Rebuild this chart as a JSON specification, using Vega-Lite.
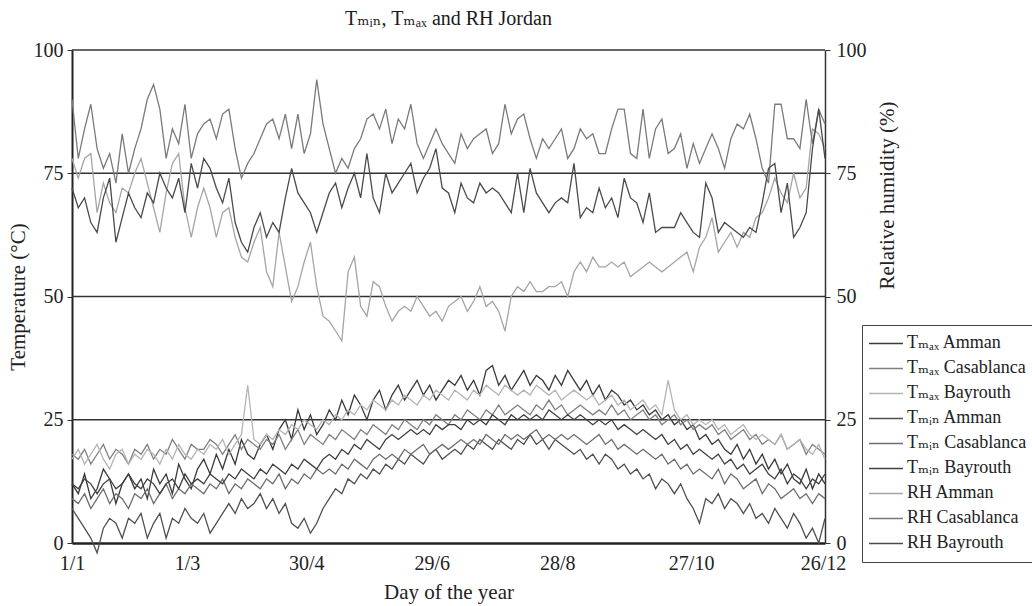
{
"$schema": "https://vega.github.io/schema/vega-lite/v6.json",
"width": 753,
"height": 493,
"autosize": {"type": "none"},
"padding": {"left": 72, "top": 50, "right": 207, "bottom": 63},
"background": "white",
"config": {"font": "Liberation Serif, DejaVu Serif, serif", "view": {"stroke": null}},
"title": {"text": "Tₘᵢₙ, Tₘₐₓ and RH Jordan", "font": "Liberation Serif, DejaVu Serif, serif", "fontSize": 20, "fontWeight": "normal", "color": "#1a1a1a", "offset": 11, "anchor": "middle"},
"layer": [
{
"data": {"values": [{"g": 25}, {"g": 50}, {"g": 75}, {"g": 100}]},
"mark": {"type": "rule", "color": "#333333", "strokeWidth": 1.5},
"encoding": {
"y": {"field": "g", "type": "quantitative", "scale": {"domain": [0, 100], "nice": false},
"axis": {"orient": "right", "values": [0, 25, 50, 75, 100], "grid": false, "tickSize": 5, "tickColor": "#333", "domainColor": "#333", "domainWidth": 1.5, "labelFont": "Liberation Serif, DejaVu Serif, serif", "labelFontSize": 20, "labelColor": "#222", "labelPadding": 6, "title": "Relative humidity (%)", "titleFont": "Liberation Serif, DejaVu Serif, serif", "titleAngle": 270, "titleAlign": "center", "titleBaseline": "middle", "titleX": 62, "titleY": 145, "titleFontSize": 21, "titleFontWeight": "normal", "titleColor": "#222"}}
}
},
{
"data": {"values": [
{"d":1,"a":12,"b":18,"c":17,"e":7,"f":9,"g":12,"h":78,"k":90,"m":72},
{"d":4,"a":10,"b":17,"c":19,"e":5,"f":8,"g":11,"h":74,"k":78,"m":68},
{"d":7,"a":14,"b":19,"c":16,"e":3,"f":10,"g":13,"h":78,"k":84,"m":70},
{"d":10,"a":9,"b":16,"c":18,"e":1,"f":7,"g":12,"h":79,"k":89,"m":65},
{"d":13,"a":11,"b":18,"c":20,"e":-2,"f":9,"g":10,"h":67,"k":80,"m":63},
{"d":16,"a":15,"b":20,"c":17,"e":3,"f":11,"g":12,"h":73,"k":76,"m":70},
{"d":19,"a":13,"b":17,"c":15,"e":5,"f":8,"g":13,"h":69,"k":79,"m":74},
{"d":22,"a":8,"b":19,"c":18,"e":4,"f":10,"g":11,"h":67,"k":73,"m":61},
{"d":25,"a":12,"b":18,"c":19,"e":1,"f":9,"g":12,"h":72,"k":83,"m":66},
{"d":28,"a":14,"b":16,"c":16,"e":5,"f":7,"g":14,"h":71,"k":75,"m":71},
{"d":31,"a":11,"b":19,"c":18,"e":4,"f":10,"g":12,"h":75,"k":80,"m":68},
{"d":34,"a":13,"b":18,"c":17,"e":6,"f":9,"g":11,"h":78,"k":84,"m":66},
{"d":37,"a":9,"b":20,"c":19,"e":1,"f":11,"g":13,"h":73,"k":90,"m":71},
{"d":40,"a":15,"b":17,"c":18,"e":4,"f":8,"g":12,"h":68,"k":93,"m":69},
{"d":43,"a":12,"b":19,"c":16,"e":6,"f":10,"g":10,"h":63,"k":88,"m":75},
{"d":46,"a":14,"b":18,"c":19,"e":1,"f":12,"g":12,"h":71,"k":78,"m":72},
{"d":49,"a":10,"b":21,"c":17,"e":5,"f":9,"g":13,"h":77,"k":84,"m":70},
{"d":52,"a":16,"b":19,"c":20,"e":4,"f":11,"g":11,"h":79,"k":81,"m":74},
{"d":55,"a":13,"b":17,"c":18,"e":7,"f":10,"g":14,"h":68,"k":89,"m":67},
{"d":58,"a":11,"b":20,"c":17,"e":5,"f":12,"g":12,"h":62,"k":78,"m":77},
{"d":61,"a":15,"b":19,"c":19,"e":4,"f":11,"g":13,"h":68,"k":83,"m":72},
{"d":64,"a":17,"b":19,"c":18,"e":6,"f":10,"g":12,"h":72,"k":85,"m":78},
{"d":67,"a":14,"b":21,"c":20,"e":2,"f":12,"g":14,"h":68,"k":86,"m":76},
{"d":70,"a":18,"b":20,"c":19,"e":4,"f":11,"g":13,"h":62,"k":82,"m":72},
{"d":73,"a":15,"b":18,"c":21,"e":6,"f":13,"g":12,"h":67,"k":87,"m":69},
{"d":76,"a":19,"b":20,"c":18,"e":8,"f":10,"g":14,"h":68,"k":88,"m":74},
{"d":79,"a":16,"b":22,"c":20,"e":6,"f":12,"g":13,"h":62,"k":80,"m":65},
{"d":82,"a":21,"b":19,"c":22,"e":9,"f":11,"g":15,"h":58,"k":74,"m":61},
{"d":85,"a":18,"b":21,"c":32,"e":7,"f":13,"g":14,"h":57,"k":77,"m":59},
{"d":88,"a":17,"b":20,"c":21,"e":8,"f":12,"g":13,"h":61,"k":79,"m":64},
{"d":91,"a":20,"b":19,"c":20,"e":10,"f":11,"g":15,"h":64,"k":82,"m":67},
{"d":94,"a":22,"b":21,"c":22,"e":7,"f":13,"g":14,"h":55,"k":85,"m":62},
{"d":97,"a":19,"b":20,"c":21,"e":9,"f":12,"g":16,"h":52,"k":86,"m":65},
{"d":100,"a":23,"b":22,"c":23,"e":6,"f":14,"g":15,"h":63,"k":82,"m":63},
{"d":103,"a":25,"b":19,"c":22,"e":8,"f":11,"g":14,"h":56,"k":87,"m":70},
{"d":106,"a":21,"b":21,"c":24,"e":4,"f":13,"g":16,"h":49,"k":80,"m":76},
{"d":109,"a":27,"b":23,"c":23,"e":3,"f":12,"g":15,"h":52,"k":87,"m":71},
{"d":112,"a":23,"b":20,"c":25,"e":5,"f":14,"g":17,"h":57,"k":79,"m":69},
{"d":115,"a":26,"b":22,"c":24,"e":2,"f":13,"g":16,"h":61,"k":83,"m":67},
{"d":118,"a":22,"b":21,"c":23,"e":4,"f":15,"g":15,"h":52,"k":94,"m":63},
{"d":121,"a":24,"b":20,"c":25,"e":7,"f":14,"g":17,"h":46,"k":85,"m":67},
{"d":124,"a":27,"b":22,"c":24,"e":9,"f":15,"g":18,"h":45,"k":80,"m":71},
{"d":127,"a":25,"b":21,"c":26,"e":11,"f":14,"g":17,"h":43,"k":75,"m":73},
{"d":130,"a":29,"b":23,"c":25,"e":10,"f":16,"g":19,"h":41,"k":78,"m":68},
{"d":133,"a":26,"b":22,"c":27,"e":13,"f":15,"g":18,"h":55,"k":76,"m":72},
{"d":136,"a":30,"b":21,"c":26,"e":12,"f":17,"g":20,"h":58,"k":80,"m":75},
{"d":139,"a":28,"b":23,"c":28,"e":14,"f":16,"g":19,"h":48,"k":82,"m":70},
{"d":142,"a":25,"b":22,"c":27,"e":13,"f":15,"g":21,"h":46,"k":86,"m":79},
{"d":145,"a":29,"b":24,"c":29,"e":15,"f":17,"g":20,"h":53,"k":87,"m":70},
{"d":148,"a":31,"b":23,"c":28,"e":14,"f":18,"g":19,"h":52,"k":84,"m":67},
{"d":151,"a":27,"b":22,"c":27,"e":16,"f":17,"g":21,"h":48,"k":88,"m":75},
{"d":154,"a":30,"b":24,"c":29,"e":15,"f":18,"g":22,"h":45,"k":81,"m":71},
{"d":157,"a":32,"b":23,"c":28,"e":17,"f":17,"g":21,"h":47,"k":86,"m":73},
{"d":160,"a":29,"b":25,"c":30,"e":16,"f":19,"g":22,"h":48,"k":84,"m":75},
{"d":163,"a":31,"b":24,"c":29,"e":18,"f":18,"g":23,"h":47,"k":89,"m":77},
{"d":166,"a":33,"b":23,"c":28,"e":17,"f":19,"g":22,"h":50,"k":81,"m":71},
{"d":169,"a":30,"b":25,"c":30,"e":16,"f":20,"g":23,"h":48,"k":78,"m":74},
{"d":172,"a":32,"b":24,"c":29,"e":18,"f":18,"g":22,"h":46,"k":81,"m":76},
{"d":175,"a":29,"b":26,"c":31,"e":19,"f":19,"g":24,"h":47,"k":84,"m":80},
{"d":178,"a":31,"b":25,"c":30,"e":17,"f":20,"g":23,"h":45,"k":81,"m":72},
{"d":181,"a":33,"b":24,"c":29,"e":18,"f":19,"g":24,"h":48,"k":79,"m":71},
{"d":184,"a":32,"b":26,"c":31,"e":19,"f":20,"g":24,"h":49,"k":77,"m":67},
{"d":187,"a":34,"b":25,"c":30,"e":18,"f":21,"g":23,"h":50,"k":83,"m":73},
{"d":190,"a":31,"b":27,"c":29,"e":20,"f":20,"g":25,"h":47,"k":80,"m":70},
{"d":193,"a":33,"b":26,"c":31,"e":19,"f":21,"g":24,"h":49,"k":82,"m":69},
{"d":196,"a":30,"b":25,"c":30,"e":21,"f":20,"g":25,"h":52,"k":83,"m":73},
{"d":199,"a":35,"b":27,"c":32,"e":20,"f":22,"g":24,"h":48,"k":84,"m":71},
{"d":202,"a":36,"b":26,"c":31,"e":19,"f":21,"g":26,"h":49,"k":79,"m":72},
{"d":205,"a":32,"b":28,"c":30,"e":21,"f":20,"g":25,"h":47,"k":81,"m":71},
{"d":208,"a":34,"b":26,"c":32,"e":20,"f":22,"g":24,"h":43,"k":89,"m":69},
{"d":211,"a":31,"b":27,"c":31,"e":19,"f":21,"g":26,"h":50,"k":83,"m":67},
{"d":214,"a":33,"b":28,"c":30,"e":21,"f":22,"g":25,"h":52,"k":86,"m":75},
{"d":217,"a":35,"b":27,"c":31,"e":20,"f":21,"g":26,"h":51,"k":87,"m":67},
{"d":220,"a":32,"b":26,"c":30,"e":22,"f":22,"g":25,"h":53,"k":82,"m":76},
{"d":223,"a":34,"b":28,"c":32,"e":20,"f":23,"g":26,"h":51,"k":78,"m":71},
{"d":226,"a":33,"b":27,"c":31,"e":21,"f":21,"g":25,"h":51,"k":82,"m":69},
{"d":229,"a":31,"b":29,"c":30,"e":19,"f":22,"g":27,"h":52,"k":80,"m":67},
{"d":232,"a":34,"b":27,"c":31,"e":21,"f":21,"g":26,"h":52,"k":82,"m":69},
{"d":235,"a":32,"b":28,"c":29,"e":20,"f":22,"g":25,"h":53,"k":84,"m":70},
{"d":238,"a":35,"b":26,"c":30,"e":19,"f":21,"g":26,"h":50,"k":78,"m":69},
{"d":241,"a":33,"b":27,"c":31,"e":18,"f":22,"g":25,"h":55,"k":80,"m":77},
{"d":244,"a":31,"b":28,"c":30,"e":19,"f":21,"g":26,"h":57,"k":84,"m":66},
{"d":247,"a":33,"b":27,"c":29,"e":17,"f":20,"g":25,"h":55,"k":82,"m":68},
{"d":250,"a":30,"b":26,"c":30,"e":18,"f":21,"g":24,"h":58,"k":83,"m":67},
{"d":253,"a":32,"b":27,"c":28,"e":16,"f":22,"g":25,"h":56,"k":79,"m":72},
{"d":256,"a":29,"b":26,"c":29,"e":18,"f":20,"g":24,"h":56,"k":79,"m":68},
{"d":259,"a":31,"b":28,"c":30,"e":17,"f":21,"g":25,"h":57,"k":84,"m":70},
{"d":262,"a":30,"b":26,"c":28,"e":15,"f":19,"g":23,"h":56,"k":88,"m":66},
{"d":265,"a":28,"b":27,"c":29,"e":16,"f":20,"g":24,"h":57,"k":88,"m":74},
{"d":268,"a":29,"b":25,"c":27,"e":14,"f":19,"g":23,"h":54,"k":79,"m":70},
{"d":271,"a":27,"b":26,"c":28,"e":15,"f":18,"g":22,"h":55,"k":78,"m":69},
{"d":274,"a":28,"b":27,"c":29,"e":13,"f":19,"g":23,"h":56,"k":88,"m":65},
{"d":277,"a":26,"b":25,"c":27,"e":14,"f":18,"g":22,"h":57,"k":78,"m":71},
{"d":280,"a":27,"b":26,"c":28,"e":11,"f":17,"g":21,"h":56,"k":84,"m":63},
{"d":283,"a":25,"b":24,"c":26,"e":13,"f":18,"g":22,"h":55,"k":86,"m":64},
{"d":286,"a":26,"b":25,"c":33,"e":12,"f":16,"g":20,"h":56,"k":79,"m":64},
{"d":289,"a":24,"b":26,"c":27,"e":10,"f":17,"g":21,"h":57,"k":80,"m":64},
{"d":292,"a":25,"b":24,"c":25,"e":12,"f":15,"g":19,"h":58,"k":83,"m":67},
{"d":295,"a":23,"b":25,"c":26,"e":9,"f":16,"g":20,"h":59,"k":76,"m":65},
{"d":298,"a":24,"b":23,"c":24,"e":7,"f":14,"g":18,"h":55,"k":81,"m":63},
{"d":301,"a":21,"b":24,"c":25,"e":4,"f":15,"g":19,"h":60,"k":77,"m":62},
{"d":304,"a":22,"b":23,"c":24,"e":9,"f":14,"g":18,"h":62,"k":80,"m":73},
{"d":307,"a":20,"b":24,"c":25,"e":8,"f":13,"g":17,"h":66,"k":83,"m":70},
{"d":310,"a":21,"b":22,"c":23,"e":10,"f":15,"g":18,"h":59,"k":80,"m":63},
{"d":313,"a":19,"b":23,"c":24,"e":7,"f":12,"g":16,"h":61,"k":76,"m":65},
{"d":316,"a":18,"b":21,"c":22,"e":9,"f":14,"g":17,"h":63,"k":82,"m":64},
{"d":319,"a":20,"b":22,"c":23,"e":8,"f":13,"g":15,"h":60,"k":85,"m":63},
{"d":322,"a":17,"b":23,"c":24,"e":6,"f":11,"g":16,"h":63,"k":84,"m":62},
{"d":325,"a":19,"b":21,"c":22,"e":8,"f":12,"g":14,"h":62,"k":87,"m":64},
{"d":328,"a":16,"b":22,"c":21,"e":5,"f":13,"g":15,"h":66,"k":82,"m":63},
{"d":331,"a":18,"b":20,"c":22,"e":6,"f":10,"g":16,"h":67,"k":76,"m":69},
{"d":334,"a":15,"b":21,"c":21,"e":4,"f":12,"g":14,"h":70,"k":73,"m":76},
{"d":337,"a":17,"b":20,"c":20,"e":7,"f":11,"g":13,"h":74,"k":89,"m":77},
{"d":340,"a":14,"b":22,"c":22,"e":5,"f":9,"g":15,"h":71,"k":89,"m":67},
{"d":343,"a":16,"b":19,"c":19,"e":3,"f":10,"g":12,"h":69,"k":82,"m":73},
{"d":346,"a":13,"b":20,"c":20,"e":6,"f":11,"g":14,"h":75,"k":82,"m":62},
{"d":349,"a":12,"b":21,"c":21,"e":4,"f":9,"g":13,"h":70,"k":80,"m":64},
{"d":352,"a":15,"b":18,"c":19,"e":1,"f":10,"g":11,"h":72,"k":90,"m":67},
{"d":355,"a":11,"b":20,"c":18,"e":3,"f":8,"g":13,"h":84,"k":81,"m":80},
{"d":358,"a":14,"b":19,"c":20,"e":0,"f":10,"g":12,"h":83,"k":88,"m":88},
{"d":361,"a":12,"b":18,"c":17,"e":5,"f":9,"g":14,"h":80,"k":85,"m":78}
]},
"transform": [{"fold": ["a", "b", "c", "e", "f", "g", "h", "k", "m"], "as": ["s", "v"]}],
"mark": {"type": "line", "strokeWidth": 1.3},
"encoding": {
"x": {"field": "d", "type": "quantitative", "scale": {"domain": [1, 361], "nice": false, "zero": false},
"axis": {"values": [1, 56, 113, 173, 233, 297, 360], "labelExpr": "datum.value==1?'1/1':datum.value==56?'1/3':datum.value==113?'30/4':datum.value==173?'29/6':datum.value==233?'28/8':datum.value==297?'27/10':'26/12'", "ticks": false, "grid": false, "domainColor": "#222", "domainWidth": 2.5, "labelFont": "Liberation Serif, DejaVu Serif, serif", "labelFontSize": 20, "labelColor": "#222", "labelPadding": 10, "labelFlush": false, "title": "Day of the year", "titleFont": "Liberation Serif, DejaVu Serif, serif", "titleFontSize": 21, "titleFontWeight": "normal", "titleColor": "#222", "titlePadding": 8}},
"y": {"field": "v", "type": "quantitative", "scale": {"domain": [0, 100], "nice": false},
"axis": {"orient": "left", "values": [0, 25, 50, 75, 100], "grid": false, "tickSize": 5, "tickColor": "#333", "domainColor": "#222", "domainWidth": 2, "labelFont": "Liberation Serif, DejaVu Serif, serif", "labelFontSize": 20, "labelColor": "#222", "labelPadding": 4, "title": "Temperature (°C)", "titleFont": "Liberation Serif, DejaVu Serif, serif", "titleFontSize": 21, "titleFontWeight": "normal", "titleColor": "#222", "titlePadding": 5}},
"color": {"field": "s", "type": "nominal",
"scale": {"domain": ["a", "b", "c", "e", "f", "g", "h", "k", "m"], "range": ["#3a3a3a", "#808080", "#b4b4b4", "#505050", "#6e6e6e", "#404040", "#a5a5a5", "#7a7a7a", "#4a4a4a"]},
"legend": {"orient": "none", "legendX": 790, "legendY": 275, "title": null, "symbolType": "stroke", "symbolSize": 1150, "symbolStrokeWidth": 1.5, "labelFont": "Liberation Serif, DejaVu Serif, serif", "labelFontSize": 18, "labelColor": "#222", "labelOffset": 3, "clipHeight": 24.8, "rowPadding": 0, "padding": 6, "strokeColor": "#444", "fillColor": "white",
"labelExpr": "datum.label=='a'?'Tₘₐₓ Amman':datum.label=='b'?'Tₘₐₓ Casablanca':datum.label=='c'?'Tₘₐₓ Bayrouth':datum.label=='e'?'Tₘᵢₙ Amman':datum.label=='f'?'Tₘᵢₙ Casablanca':datum.label=='g'?'Tₘᵢₙ Bayrouth':datum.label=='h'?'RH Amman':datum.label=='k'?'RH Casablanca':'RH Bayrouth'"}}
}
}
],
"resolve": {"axis": {"y": "independent"}}
}
